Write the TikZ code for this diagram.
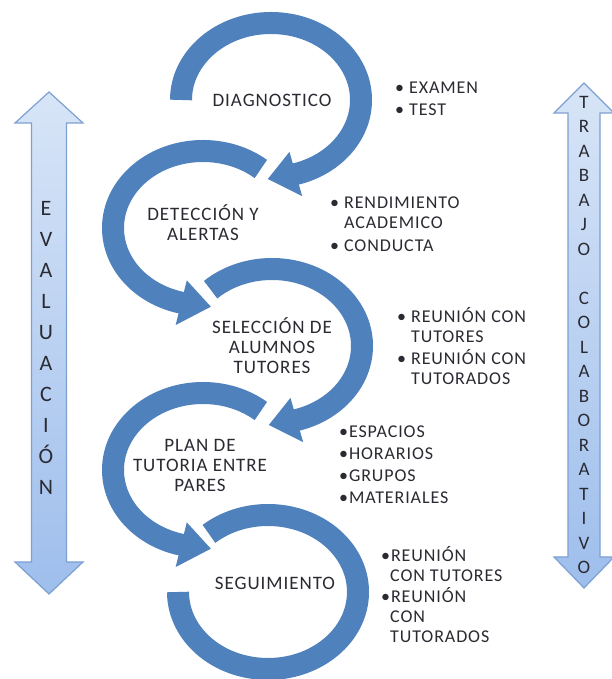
\documentclass[tikz,border=0pt]{standalone}
\usepackage{fontspec}
\setmainfont{Carlito}[LetterSpace=5]
\newfontfamily\sidefont{Carlito}
\usetikzlibrary{calc}
\definecolor{ringblue}{RGB}{79,129,189}
\definecolor{textgray}{RGB}{42,42,50}
\definecolor{sideedge}{RGB}{125,160,210}
\definecolor{sidetop}{RGB}{216,229,247}
\definecolor{sidebottom}{RGB}{158,190,236}
\begin{document}
\begin{tikzpicture}[x=1pt,y=1pt,
    ring/.style={draw=ringblue,line width=22pt},
    stage/.style={align=center,text=textgray,font=\fontsize{19}{20}\selectfont},
    liste/.style={anchor=north west,inner sep=0pt,align=left,text=textgray,font=\fontsize{18}{20}\selectfont},
    sidearrow/.style={draw=sideedge,line width=1.2pt,top color=sidetop,bottom color=sidebottom},
    sidetext/.style={align=center,text=textgray,inner sep=0pt}]
  \useasboundingbox[fill=white] (0,0) rectangle (611,679);
  % Mittelpunkte der Kreispfeile
  \coordinate (c1) at (271,579);
  \coordinate (c2) at (203,451);
  \coordinate (c3) at (272,333);
  \coordinate (c4) at (203,209);
  \coordinate (c5) at (268,87);
  % Kreisboegen
  \foreach \c/\s/\e in {c1/180/-76,c2/50/258,c3/133/-76,c4/50/258,c5/131/-180}
  \draw[ring] ($(\c)+(\s:90pt and 77pt)$) arc[start angle=\s,end angle=\e,x radius=90pt,y radius=77pt];
  % Pfeilspitzen
  \foreach \c/\b/\t in {c1/-74/-92,c2/256/275,c3/-74/-92,c4/256/275}
  \fill[ringblue] ($(\c)+(\b:113pt and 100pt)$) -- ($(\c)+(\t:90pt and 79pt)$) -- ($(\c)+(\b:67pt and 54pt)$) -- cycle;
  % Stufen
  \node[stage] (diag) at (272,579) {DIAGNOSTICO};
  \node[stage] (detec) at (203,456) {DETECCIÓN Y\\ALERTAS};
  \node[stage] (selec) at (272,333) {SELECCIÓN DE\\ALUMNOS\\TUTORES};
  \node[stage] (plan) at (200,214) {PLAN DE\\TUTORIA ENTRE\\PARES};
  \node[stage] (segui) at (275,96) {SEGUIMIENTO};
  % Listen rechts
  \node[liste] (l1) at (395,600) {\strut• EXAMEN\\[2pt]• TEST};
  \node[liste] (l2) at (330,485) {\strut• RENDIMIENTO\\\hphantom{•\ }ACADEMICO\\[3pt]• CONDUCTA};
  \node[liste] (l3) at (397,372) {\strut• REUNIÓN CON\\\hphantom{•\ }TUTORES\\[2pt]• REUNIÓN CON\\\hphantom{•\ }TUTORADOS};
  \node[liste] (l4) at (339,256) {\strut•ESPACIOS\\[2pt]•HORARIOS\\[2pt]•GRUPOS\\[2pt]•MATERIALES};
  \node[liste] (l5) at (381,133) {\strut•REUNIÓN\\\hphantom{•}CON TUTORES\\[1pt]•REUNIÓN\\\hphantom{•}CON\\\hphantom{•}TUTORADOS};
  % Doppelpfeile links und rechts
  \draw[sidearrow] (49,587) -- (83,556) -- (66.5,556) -- (66.5,117) -- (83,117) -- (49,85)
    -- (15,117) -- (31.5,117) -- (31.5,556) -- (15,556) -- cycle;
  \draw[sidearrow] (584,596) -- (614,566) -- (600,566) -- (600,122) -- (614,122) -- (584,91)
    -- (554,122) -- (568,122) -- (568,566) -- (554,566) -- cycle;
  \node[sidetext,font=\sidefont\fontsize{22}{31}\selectfont] (eval) at (46,331.5)
    {E\\V\\A\\L\\U\\A\\C\\I\\Ó\\N};
  \node[sidetext,font=\sidefont\fontsize{19}{24.5}\selectfont] (trab) at (584,344)
    {T\\R\\A\\B\\A\\J\\O\\\mbox{}\\C\\O\\L\\A\\B\\O\\R\\A\\T\\I\\V\\O};
\end{tikzpicture}
\end{document}
